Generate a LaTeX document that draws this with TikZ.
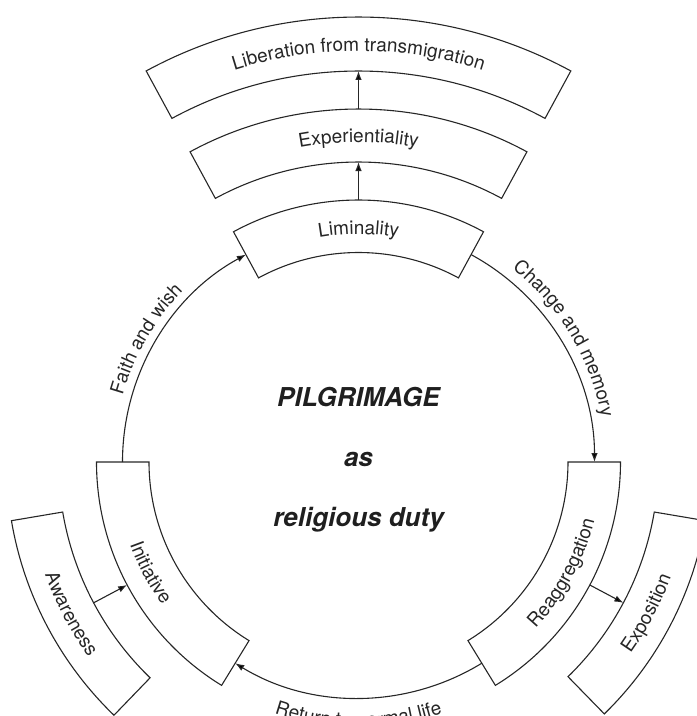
\documentclass[tikz,border=0pt]{standalone}
\usepackage{fontspec}
\setmainfont{TeX Gyre Heros}
\usetikzlibrary{arrows.meta,decorations.text}
\newcommand\dlabfont{\fontsize{19}{22}\selectfont}
\newcommand\annsec[4]{\draw[ink] (#1:#3) arc[start angle=#1,end angle=#2,radius=#3] -- (#2:#4) arc[start angle=#2,end angle=#1,radius=#4] -- cycle;}
\begin{document}
\begin{tikzpicture}[x=1pt,y=1pt,
  ink/.style={draw=black!85, line width=1.1pt, line join=miter},
  flow/.style={draw=black!85, line width=1.1pt, -{Latex[length=9pt,width=6.5pt]}},
  arclabel/.style={decorate, decoration={text along path, text align=center, text color=black!85, text={|\dlabfont|#1}}},
  centertext/.style={font=\fontsize{26}{30}\selectfont\bfseries\itshape, text=black!88, anchor=base, inner sep=0pt}
]
\useasboundingbox (-358.5,-254) rectangle (338.5,462);
\clip (-358.5,-254) rectangle (338.5,462);

% boxes (annular sectors)
\annsec{61.5}{118.5}{209.5}{262}   % Liminality
\annsec{61.5}{118.5}{300}{353}     % Experientiality
\annsec{61.5}{118.5}{391}{445}     % Liberation
\annsec{180}{238.5}{209.5}{262}    % Initiative
\annsec{-58.5}{0}{209.5}{262}      % Reaggregation
\annsec{189.6}{226}{300}{352}      % Awareness
\annsec{-45.7}{-9.6}{300}{352}     % Exposition

% box labels
\path[arclabel=Liminality] (118.5:228) arc[start angle=118.5,end angle=61.5,radius=228];
\path[arclabel=Experientiality] (118.5:320) arc[start angle=118.5,end angle=61.5,radius=320];
\path[arclabel=Liberation from transmigration] (118.5:411) arc[start angle=118.5,end angle=61.5,radius=411];
\path[arclabel=Initiative] (183:243) arc[start angle=183,end angle=233,radius=243];
\path[arclabel=Reaggregation] (-56.5:243) arc[start angle=-56.5,end angle=-0.5,radius=243];
\path[arclabel=Awareness] (189.6:333) arc[start angle=189.6,end angle=226,radius=333];
\path[arclabel=Exposition] (-45.7:333) arc[start angle=-45.7,end angle=-9.6,radius=333];

% connector end points
\coordinate (iniTop) at (180:236);
\coordinate (limL) at (118.5:236);
\coordinate (limR) at (61.5:236);
\coordinate (reaTop) at (0:236);
\coordinate (reaBot) at (-58.5:236);
\coordinate (iniBot) at (238.5:236);
\coordinate (limOut) at (90:262);
\coordinate (expIn) at (90:300);
\coordinate (expOut) at (90:353);
\coordinate (libIn) at (90:391);
\coordinate (awaIn) at (208:300);
\coordinate (iniOut) at (208:262);
\coordinate (reaOut) at (-28:262);
\coordinate (expoIn) at (-28:300);

% circular connectors
\draw[flow] (iniTop) arc[start angle=180,end angle=118.5,radius=236];
\draw[flow] (limR) arc[start angle=61.5,end angle=0,radius=236];
\draw[flow] (reaBot) arc[start angle=-58.5,end angle=-121.5,radius=236];

% radial connectors
\draw[flow] (limOut) -- (expIn);
\draw[flow] (expOut) -- (libIn);
\draw[flow] (awaIn) -- (iniOut);
\draw[flow] (reaOut) -- (expoIn);

% connector labels
\path[arclabel=Faith and wish] (175:245) arc[start angle=175,end angle=125,radius=245];
\path[arclabel=Change and memory] (56:247) arc[start angle=56,end angle=6,radius=247];
\path[arclabel=Return to normal life] (240:265) arc[start angle=240,end angle=300,radius=265];

% centre text
\node[centertext] (t1) at (0,56) {PILGRIMAGE};
\node[centertext] (t2) at (0,-4.5) {as};
\node[centertext] (t3) at (0,-64.5) {religious duty};
\end{tikzpicture}
\end{document}
